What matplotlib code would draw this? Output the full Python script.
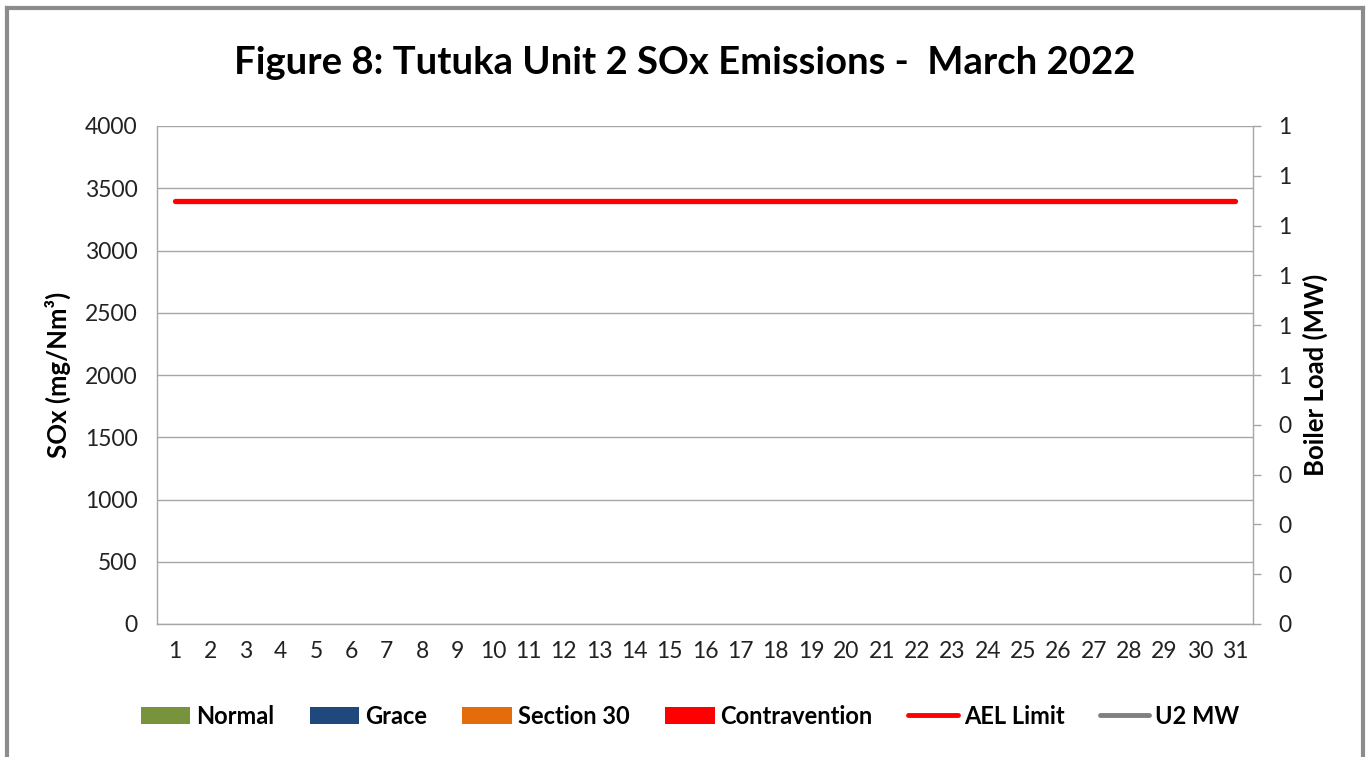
import matplotlib
matplotlib.use("Agg")
import matplotlib.pyplot as plt
import numpy as np
from matplotlib.patches import Patch
from matplotlib.lines import Line2D

plt.rcParams['font.family'] = ['Lato', 'DejaVu Sans']

# ---- data ----
days = list(range(1, 32))
normal = [0] * 31
grace = [0] * 31
section30 = [0] * 31
contravention = [0] * 31
ael_limit = [3400] * 31
u2_mw = [np.nan] * 31

left_ticks = [0, 500, 1000, 1500, 2000, 2500, 3000, 3500, 4000]
right_ticks = [0.0, 0.1, 0.2, 0.3, 0.4, 0.5, 0.6, 0.7, 0.8, 0.9, 1.0]
right_labels = ["0", "0", "0", "0", "0", "1", "1", "1", "1", "1", "1"]

title = "Figure 8: Tutuka Unit 2 SOx Emissions -  March 2022"

c_normal = "#77933C"
c_grace = "#1F497D"
c_sec30 = "#E46C0A"
c_contra = "#FF0000"
c_ael = "#FF0000"
c_mw = "#808080"
grid_c = "#A6A6A6"

W, H = 1369, 757
fig = plt.figure(figsize=(W / 100, H / 100), dpi=100)
fig.patch.set_facecolor("white")

ax = fig.add_axes([157 / W, 1 - 624 / H, (1253 - 157) / W, (624 - 126) / H])
x = np.array(days)
bw = 0.6
ax.bar(x, normal, bw, color=c_normal, zorder=2)
ax.bar(x, grace, bw, bottom=normal, color=c_grace, zorder=2)
b2 = np.array(normal) + np.array(grace)
ax.bar(x, section30, bw, bottom=b2, color=c_sec30, zorder=2)
b3 = b2 + np.array(section30)
ax.bar(x, contravention, bw, bottom=b3, color=c_contra, zorder=2)
ax.plot(x, ael_limit, color=c_ael, lw=3.8, solid_capstyle='round', zorder=3)

ax.set_xlim(0.5, 31.5)
ax.set_ylim(0, 4000)
ax.set_yticks(left_ticks)
ax.set_yticklabels([str(v) for v in left_ticks])
ax.set_xticks(days)
ax.set_xticklabels([str(d) for d in days])
ax.yaxis.grid(True, color=grid_c, lw=1.0, zorder=0)
ax.set_axisbelow(True)
ax.tick_params(axis='y', length=0, pad=14, labelsize=16.5, colors='#222222')
ax.tick_params(axis='x', length=0, pad=12, labelsize=16.5, colors='#222222')
for s in ['top', 'right']:
    ax.spines[s].set_visible(False)
for s in ['left', 'bottom']:
    ax.spines[s].set_color(grid_c)
    ax.spines[s].set_linewidth(1.0)
ax.set_ylabel("SOx (mg/Nm³)", fontsize=18.5, fontweight='bold', labelpad=10)

ax2 = ax.twinx()
ax2.plot(x, u2_mw, color=c_mw, lw=3.5)
ax2.set_ylim(0, 1)
ax2.set_yticks(right_ticks)
ax2.set_yticklabels(right_labels)
ax2.tick_params(axis='y', length=6, width=1.0, color=grid_c, pad=12, labelsize=16.5, labelcolor='#222222')
for s in ['top', 'left', 'bottom']:
    ax2.spines[s].set_visible(False)
ax2.spines['right'].set_color(grid_c)
ax2.spines['right'].set_linewidth(1.0)
ax2.set_ylabel("Boiler Load (MW)", fontsize=18.5, fontweight='bold', labelpad=8)

fig.text(685 / W, 1 - 63 / H, title, ha='center', va='center', fontsize=27.5, fontweight='bold')

handles = [
    Patch(facecolor=c_normal, label="Normal"),
    Patch(facecolor=c_grace, label="Grace"),
    Patch(facecolor=c_sec30, label="Section 30"),
    Patch(facecolor=c_contra, label="Contravention"),
    Line2D([0], [0], color=c_ael, lw=3.5, solid_capstyle='round', label="AEL Limit"),
    Line2D([0], [0], color=c_mw, lw=3.5, solid_capstyle='round', label="U2 MW"),
]
fig.legend(handles=handles, loc='center', bbox_to_anchor=(690 / W, 1 - 716 / H), ncol=6,
           frameon=False, prop={'weight': 'bold', 'size': 17}, handlelength=2.1,
           handleheight=0.75, handletextpad=0.25, columnspacing=1.5, borderpad=0)

# figure border (left, top, right)
bc = "#8C8C8C"
fig.add_artist(Line2D([7 / W, 7 / W], [0, 1 - 8 / H], color=bc, lw=3, transform=fig.transFigure))
fig.add_artist(Line2D([7 / W, 1363 / W], [1 - 8 / H, 1 - 8 / H], color=bc, lw=3, transform=fig.transFigure))
fig.add_artist(Line2D([1363 / W, 1363 / W], [0, 1 - 8 / H], color=bc, lw=3, transform=fig.transFigure))

fig.savefig("out.png", dpi=100)
